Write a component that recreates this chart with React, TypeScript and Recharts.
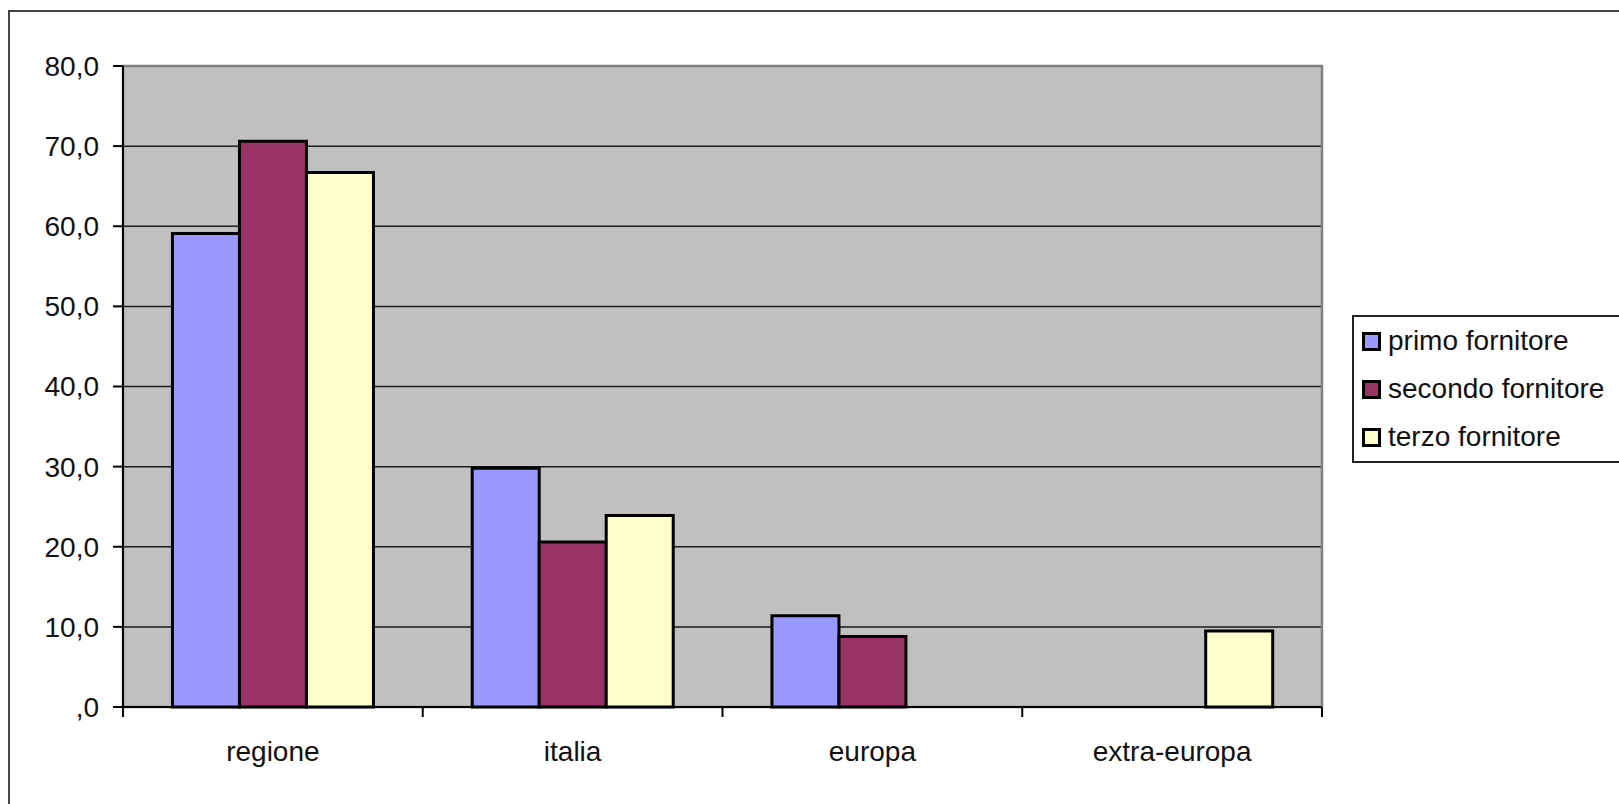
import {
  BarChart,
  Bar,
  XAxis,
  YAxis,
  CartesianGrid,
  ReferenceArea,
  Legend,
} from 'recharts';

// Quota per area di provenienza dei fornitori (%)
const categories = ['regione', 'italia', 'europa', 'extra-europa'];
const primoFornitore = [59.1, 29.8, 11.4, null];
const secondoFornitore = [70.6, 20.6, 8.8, null];
const terzoFornitore = [66.7, 23.9, null, 9.5];

const series = [
  { key: 'primo', name: 'primo fornitore', color: '#9999FF' },
  { key: 'secondo', name: 'secondo fornitore', color: '#993366' },
  { key: 'terzo', name: 'terzo fornitore', color: '#FFFFCC' },
];

const yTicks = [0, 10, 20, 30, 40, 50, 60, 70, 80];
const gridValues = [10, 20, 30, 40, 50, 60, 70];

const data = categories.map((name, i) => ({
  name,
  primo: primoFornitore[i],
  secondo: secondoFornitore[i],
  terzo: terzoFornitore[i],
}));

const FONT = '"Liberation Sans", Arial, sans-serif';
const TEXT = '#111';

// 10 -> "10,0", 0 -> ",0"
const formatTick = (v: number) => (v === 0 ? ',0' : v.toFixed(1).replace('.', ','));

// category label plus tick marks on the band edges (Excel style)
function CategoryTick(props: any) {
  const { x, y, payload, index, visibleTicksCount } = props;
  const half = payload?.offset ?? 150;
  const axisY = y - 34;
  return (
    <g>
      <line x1={x - half} x2={x - half} y1={axisY} y2={axisY + 10} stroke="#000" strokeWidth={2} />
      {index === visibleTicksCount - 1 && (
        <line x1={x + half} x2={x + half} y1={axisY} y2={axisY + 10} stroke="#000" strokeWidth={2} />
      )}
      <text x={x} y={y} dy="0.71em" textAnchor="middle" fill={TEXT} fontSize={28} fontFamily={FONT}>
        {payload.value}
      </text>
    </g>
  );
}

function LegendBox({ payload }: any) {
  return (
    <div
      style={{
        border: '2px solid #222',
        borderRight: 'none',
        background: '#fff',
        width: 280,
        height: 148,
        boxSizing: 'border-box',
        paddingTop: 0,
        paddingLeft: 8,
      }}
    >
      {(payload || []).map((p: any) => (
        <div
          key={p.value}
          style={{ display: 'flex', alignItems: 'center', height: 48, fontFamily: FONT, fontSize: 28, color: TEXT }}
        >
          <span
            style={{
              width: 19,
              height: 19,
              boxSizing: 'border-box',
              border: '3px solid #000',
              background: p.color,
              marginRight: 7,
              flexShrink: 0,
            }}
          />
          <span style={{ whiteSpace: 'nowrap' }}>{p.value}</span>
        </div>
      ))}
    </div>
  );
}

export default function App() {
  return (
    <div
      style={{
        position: 'fixed',
        left: 0,
        top: 0,
        width: 1619,
        height: 804,
        overflow: 'hidden',
        background: '#fff',
      }}
    >
      <div
        style={{
          position: 'absolute',
          left: 8,
          top: 10,
          width: 1700,
          height: 900,
          border: '2px solid #444',
        }}
      />
      <div style={{ position: 'absolute', left: 0, top: 0 }}>
        <BarChart
          width={1619}
          height={804}
          data={data}
          margin={{ top: 66, right: 297, bottom: 37, left: 10 }}
          barGap={0}
          barCategoryGap="16.5%"
        >
          <CartesianGrid
            vertical={false}
            horizontalValues={gridValues}
            stroke="#1a1a1a"
            strokeWidth={1.5}
            fill="#C0C0C0"
            fillOpacity={1}
          />
          <ReferenceArea y1={0} y2={80} fill="none" stroke="#808080" strokeWidth={2.5} ifOverflow="visible" />
          <XAxis
            dataKey="name"
            height={60}
            axisLine={{ stroke: '#000', strokeWidth: 2 }}
            tickLine={false}
            tickSize={0}
            tickMargin={34}
            tick={<CategoryTick />}
            interval={0}
          />
          <YAxis
            width={113}
            domain={[0, 80]}
            ticks={yTicks}
            interval={0}
            tickFormatter={formatTick}
            axisLine={{ stroke: '#000', strokeWidth: 2 }}
            tickLine={{ stroke: '#000', strokeWidth: 2 }}
            tickSize={10}
            tickMargin={14}
            tick={{ fill: TEXT, fontSize: 28, fontFamily: FONT }}
          />
          <Legend
            content={<LegendBox />}
            wrapperStyle={{
              position: 'absolute',
              left: 1352,
              top: 315,
              width: 0,
              height: 0,
              overflow: 'visible',
            }}
          />
          {series.map((s) => (
            <Bar
              key={s.key}
              dataKey={s.key}
              name={s.name}
              fill={s.color}
              stroke="#000"
              strokeWidth={3}
              isAnimationActive={false}
            />
          ))}
        </BarChart>
      </div>
    </div>
  );
}
